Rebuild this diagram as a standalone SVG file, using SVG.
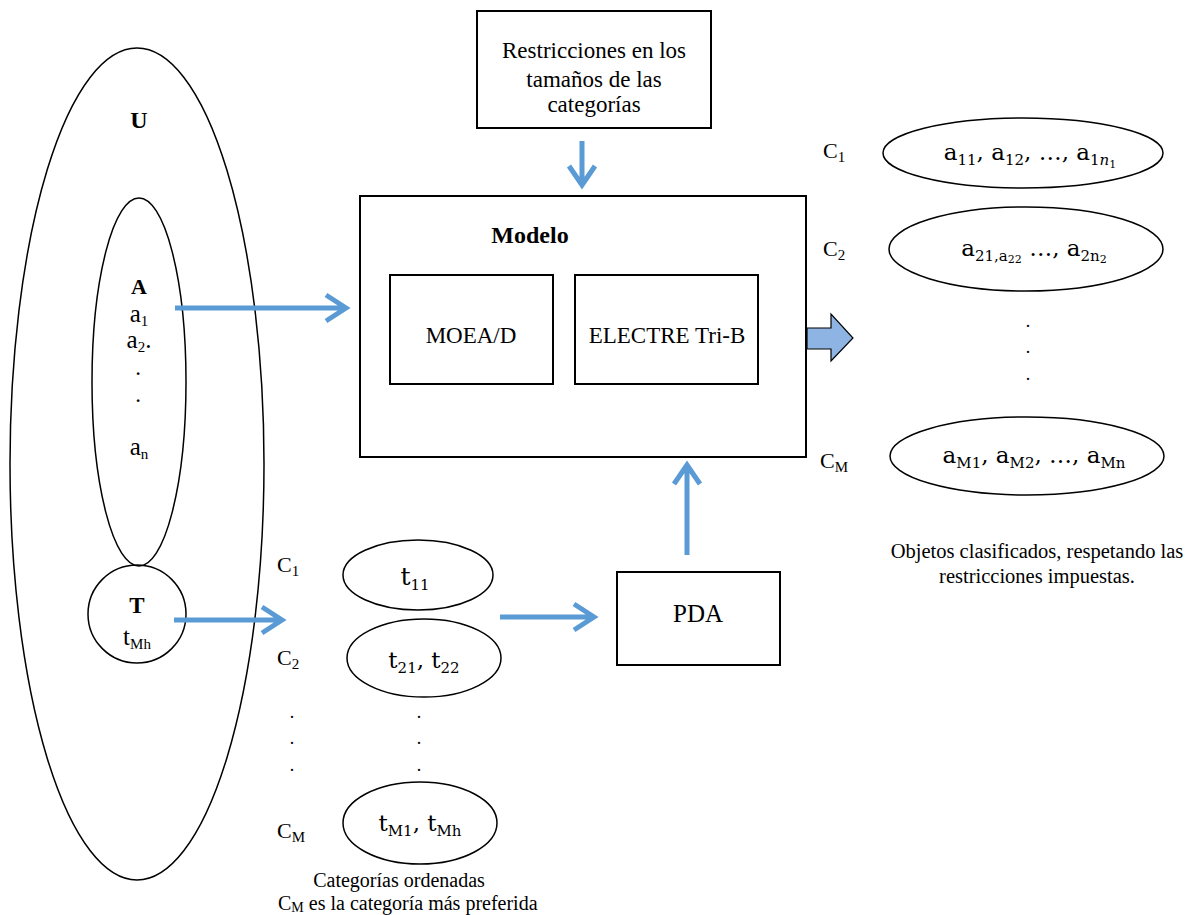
<svg xmlns="http://www.w3.org/2000/svg" width="1193" height="915" viewBox="0 0 1193 915">
<defs>
<style>
.t{font-family:'Liberation Serif','Times New Roman',Tinos,'DejaVu Serif',serif;font-size:23px;fill:#000}
.b{font-weight:bold}
.m{font-family:'DejaVu Serif','Liberation Serif',serif;font-size:23px;fill:#000}
.sb{font-size:15px}
.ss{font-size:11px}
.sh{fill:none;stroke:#000;stroke-width:1.5}
.bx{fill:#fff;stroke:#000;stroke-width:2}
.ar{fill:none;stroke:#5B9BD5;stroke-width:5}
.dot{font-family:'Liberation Serif','DejaVu Serif',serif;font-size:18px}
</style>
</defs>
<rect width="1193" height="915" fill="#fff"/>

<g id="U">
<ellipse class="sh" cx="137" cy="464" rx="127" ry="416"/>
<text class="t b" x="139" y="128" text-anchor="middle" style="font-size:24px">U</text>
</g>
<g id="A">
<ellipse class="sh" cx="139" cy="382" rx="47" ry="184"/>
<text class="t b" x="139" y="294" text-anchor="middle" style="font-size:22px">A</text>
<text class="t" x="139" y="322" text-anchor="middle" style="font-size:25px">a<tspan class="sb" dy="4">1</tspan></text>
<text class="t" x="139" y="348" text-anchor="middle" style="font-size:25px">a<tspan class="sb" dy="4">2</tspan><tspan dy="-4">.</tspan></text>
<text class="t" x="138" y="375" text-anchor="middle">.</text>
<text class="t" x="138" y="402" text-anchor="middle">.</text>
<text class="t" x="139" y="455" text-anchor="middle" style="font-size:25px">a<tspan class="sb" dy="4">n</tspan></text>
</g>
<g id="T">
<ellipse class="sh" cx="137" cy="614" rx="49" ry="49"/>
<text class="t b" x="137" y="613" text-anchor="middle" style="font-size:23px">T</text>
<text class="t" x="137" y="645" text-anchor="middle" style="font-size:25px">t<tspan class="sb" dy="4">Mh</tspan></text>
</g>

<g id="restricciones">
<rect class="bx" x="477" y="11" width="234" height="117"/>
<text class="t" x="594" y="58" text-anchor="middle">Restricciones en los</text>
<text class="t" x="594" y="87" text-anchor="middle">tamaños de las</text>
<text class="t" x="594" y="112" text-anchor="middle">categorías</text>
</g>

<g id="modelo">
<rect class="bx" x="360" y="196" width="446" height="261" stroke-width="1.5"/>
<text class="t b" x="530" y="243" text-anchor="middle" style="font-size:24px">Modelo</text>
</g>
<g id="moead">
<rect class="bx" x="390" y="275" width="163" height="109"/>
<text class="t" x="471" y="343" text-anchor="middle">MOEA/D</text>
</g>
<g id="electre">
<rect class="bx" x="575" y="275" width="183" height="109"/>
<text class="t" x="667" y="343" text-anchor="middle">ELECTRE Tri-B</text>
</g>

<g id="pda">
<rect class="bx" x="617" y="572" width="163" height="93"/>
<text class="t" x="698" y="622" text-anchor="middle" style="font-size:25px">PDA</text>
</g>

<g id="tcats">
<text class="t" x="277" y="572" style="font-size:22px">C<tspan class="sb" dy="4">1</tspan></text>
<ellipse class="sh" cx="418" cy="575" rx="75" ry="35"/>
<text class="m" x="415" y="585" text-anchor="middle" style="font-size:25px">t<tspan class="sb" dy="5">11</tspan></text>
<text class="t" x="277" y="665" style="font-size:22px">C<tspan class="sb" dy="4">2</tspan></text>
<ellipse class="sh" cx="424" cy="658" rx="77" ry="39"/>
<text class="m" x="424" y="668" text-anchor="middle">t<tspan class="sb" dy="5">21</tspan><tspan dy="-5">, t</tspan><tspan class="sb" dy="5">22</tspan></text>
<text class="dot" x="292" y="718" text-anchor="middle">.</text>
<text class="dot" x="292" y="744" text-anchor="middle">.</text>
<text class="dot" x="292" y="771" text-anchor="middle">.</text>
<text class="dot" x="419" y="718" text-anchor="middle">.</text>
<text class="dot" x="419" y="744" text-anchor="middle">.</text>
<text class="dot" x="419" y="771" text-anchor="middle">.</text>
<text class="t" x="277" y="838" style="font-size:22px">C<tspan class="sb" dy="4">M</tspan></text>
<ellipse class="sh" cx="420" cy="823" rx="77" ry="41"/>
<text class="m" x="420" y="831" text-anchor="middle">t<tspan class="sb" dy="5">M1</tspan><tspan dy="-5">, t</tspan><tspan class="sb" dy="5">Mh</tspan></text>
<text class="t" x="399" y="887" text-anchor="middle" style="font-size:20px">Categorías ordenadas</text>
<text class="t" x="278" y="910" style="font-size:20px">C<tspan dy="2" style="font-size:14px">M</tspan><tspan dy="-2"> es la categoría más preferida</tspan></text>
</g>

<g id="acats">
<text class="t" x="823" y="158" style="font-size:22px">C<tspan class="sb" dy="4">1</tspan></text>
<ellipse class="sh" cx="1023" cy="153" rx="140" ry="35"/>
<text class="m" x="1030" y="160" text-anchor="middle">a<tspan class="sb" dy="5">11</tspan><tspan dy="-5">, a</tspan><tspan class="sb" dy="5">12</tspan><tspan dy="-5">, …, a</tspan><tspan class="sb" dy="5">1<tspan font-style="italic">n</tspan></tspan><tspan class="ss" dy="3">1</tspan></text>
<text class="t" x="823" y="256" style="font-size:22px">C<tspan class="sb" dy="4">2</tspan></text>
<ellipse class="sh" cx="1026" cy="249" rx="137" ry="42"/>
<text class="m" x="1034" y="256" text-anchor="middle">a<tspan class="sb" dy="5">21,a</tspan><tspan class="ss" dy="2">22</tspan><tspan dy="-7"> …, a</tspan><tspan class="sb" dy="5">2n</tspan><tspan class="ss" dy="2">2</tspan></text>
<text class="dot" x="1028" y="327" text-anchor="middle">.</text>
<text class="dot" x="1028" y="353" text-anchor="middle">.</text>
<text class="dot" x="1028" y="380" text-anchor="middle">.</text>
<text class="t" x="820" y="468" style="font-size:22px">C<tspan class="sb" dy="4">M</tspan></text>
<ellipse class="sh" cx="1027" cy="456" rx="137" ry="39"/>
<text class="m" x="1034" y="463" text-anchor="middle">a<tspan class="sb" dy="5">M1</tspan><tspan dy="-5">, a</tspan><tspan class="sb" dy="5">M2</tspan><tspan dy="-5">, …, a</tspan><tspan class="sb" dy="5">Mn</tspan></text>
<text class="t" x="1037" y="558" text-anchor="middle" style="font-size:20.5px">Objetos clasificados, respetando las</text>
<text class="t" x="1037" y="583" text-anchor="middle" style="font-size:20.5px">restricciones impuestas.</text>
</g>

<g id="connectors">
<path class="ar" d="M175 308 H346 M326 295 L346 308 L326 321"/>
<path class="ar" d="M174 620 H282 M262 607 L282 620 L262 633"/>
<path class="ar" d="M582 141 V185 M569 166 L582 185 L595 166"/>
<path class="ar" d="M500 617 H594 M574 604 L594 617 L574 630"/>
<path class="ar" d="M687 555 V465 M674 484 L687 465 L700 484"/>
<path d="M807 328 H831 V314 L853 338 L831 361 V349 H807 Z" fill="#8EB4E3" stroke="#000" stroke-width="1.2"/>
</g>
</svg>
